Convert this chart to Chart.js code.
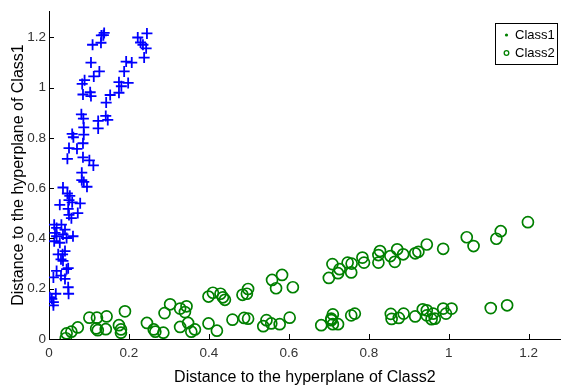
<!DOCTYPE html>
<html lang="en">
<head>
<meta charset="UTF-8">
<title>Distance to hyperplanes</title>
<script src="https://cdn.jsdelivr.net/npm/chart.js"></script>
<style>
    html, body { margin: 0; padding: 0; background: #fff; }
    canvas { display: block; }
</style>
</head>
<body>
<canvas id="chart" width="568" height="390"></canvas>
<script>
// Class1 (blue +)
const class1X = [0.138,0.136,0.131,0.130,0.109,0.105,0.126,0.112,0.089,0.083,0.085,0.103,0.105,0.081,0.086,0.087,0.058,0.061,0.087,0.085,
    0.050,0.070,0.046,0.085,0.101,0.111,0.082,0.082,0.245,0.222,0.229,0.235,0.243,0.238,0.193,0.207,0.188,0.175,0.198,0.181,
    0.175,0.153,0.143,0.142,0.123,0.147,0.123,0.087,0.095,0.035,0.046,0.052,0.050,0.027,0.058,0.078,0.048,0.072,0.050,0.056,
    0.013,0.019,0.031,0.040,0.015,0.019,0.035,0.060,0.044,0.013,0.027,0.040,0.023,0.034,0.030,0.035,0.044,0.048,0.019,0.030,
    0.040,0.011,0.048,0.049,0.017,0.007,0.011,0.011,0.002];
const class1Y = [1.218,1.209,1.208,1.179,1.171,1.100,1.065,1.045,1.030,1.015,0.973,0.982,0.967,0.894,0.877,0.842,0.816,0.803,0.813,0.779,
    0.760,0.757,0.717,0.723,0.711,0.691,0.662,0.632,1.216,1.200,1.180,1.171,1.157,1.120,1.104,1.100,1.065,1.022,1.019,1.006,
    0.980,0.971,0.941,0.888,0.868,0.872,0.838,0.625,0.606,0.603,0.579,0.570,0.553,0.534,0.544,0.540,0.518,0.501,0.494,0.481,
    0.455,0.442,0.455,0.435,0.422,0.409,0.416,0.409,0.402,0.389,0.383,0.350,0.337,0.337,0.317,0.311,0.278,0.282,0.271,0.252,
    0.239,0.245,0.206,0.180,0.180,0.160,0.147,0.134,0.166];

// Class2 (green o)
const class2X = [0.044,0.042,0.056,0.072,0.101,0.120,0.144,0.118,0.122,0.142,0.175,0.180,0.180,0.190,0.245,0.262,0.266,0.286,0.289,0.303,
    0.328,0.344,0.340,0.328,0.348,0.356,0.365,0.399,0.410,0.429,0.435,0.440,0.399,0.420,0.459,0.488,0.498,0.484,0.498,0.495,
    0.536,0.544,0.556,0.577,0.602,0.558,0.568,0.583,0.610,0.681,0.706,0.710,0.710,0.723,0.700,0.709,0.723,0.727,0.747,0.756,
    0.756,0.765,0.784,0.788,0.824,0.824,0.828,0.854,0.855,0.857,0.757,0.871,0.865,0.886,0.916,0.924,0.945,0.986,1.045,1.062,
    1.119,1.130,1.198,0.706,0.875,0.887,0.916,0.935,0.945,0.945,0.961,0.957,0.965,0.986,0.993,1.007,1.105,1.146];
const class2Y = [0.022,0.003,0.029,0.046,0.085,0.085,0.090,0.042,0.035,0.039,0.055,0.038,0.025,0.110,0.064,0.038,0.029,0.025,0.103,0.138,
    0.121,0.130,0.107,0.048,0.064,0.029,0.038,0.169,0.184,0.180,0.166,0.156,0.062,0.033,0.077,0.084,0.081,0.176,0.199,0.180,
    0.051,0.075,0.062,0.059,0.085,0.235,0.202,0.255,0.206,0.055,0.075,0.098,0.059,0.059,0.243,0.298,0.262,0.278,0.304,0.265,
    0.094,0.101,0.324,0.304,0.334,0.304,0.350,0.330,0.100,0.080,0.300,0.357,0.307,0.337,0.341,0.347,0.376,0.359,0.405,0.370,
    0.399,0.429,0.465,0.081,0.084,0.101,0.090,0.118,0.114,0.094,0.101,0.079,0.081,0.121,0.101,0.121,0.123,0.134];

const seriesNames = ['Class1', 'Class2'];
const xTitle = 'Distance to the hyperplane of Class2';
const yTitle = 'Distance to the hyperplane of Class1';

const BLUE = '#0000ff';
const GREEN = '#008000';
const FONT = '"Liberation Sans", Arial, sans-serif';

function zip(xs, ys) {
    return xs.map((x, i) => ({ x: x, y: ys[i] }));
}

function fmt(v) {
    return String(Number(v.toFixed(1)));
}

// MATLAB style: tick marks point into the plot
const innerTicks = {
    id: 'innerTicks',
    afterDraw(chart) {
        const ctx = chart.ctx;
        const a = chart.chartArea;
        const xs = chart.scales.x, ys = chart.scales.y;
        ctx.save();
        ctx.strokeStyle = '#000';
        ctx.lineWidth = 1;
        ctx.beginPath();
        xs.ticks.forEach(t => {
            const px = Math.round(xs.getPixelForValue(t.value)) + 0.5;
            ctx.moveTo(px, a.bottom);
            ctx.lineTo(px, a.bottom - 5);
        });
        ys.ticks.forEach(t => {
            const py = Math.round(ys.getPixelForValue(t.value)) + 0.5;
            ctx.moveTo(a.left, py);
            ctx.lineTo(a.left + 5, py);
        });
        ctx.stroke();
        ctx.restore();
    }
};

// boxed legend inside the axes, top right
const boxLegend = {
    id: 'boxLegend',
    afterDraw(chart) {
        const ctx = chart.ctx;
        const left = 495.5, top = 23.5, w = 62, h = 41;
        ctx.save();
        ctx.fillStyle = '#fff';
        ctx.fillRect(left, top, w, h);
        ctx.strokeStyle = '#000';
        ctx.lineWidth = 1;
        ctx.strokeRect(left, top, w, h);
        ctx.font = '13px ' + FONT;
        ctx.fillStyle = '#000';
        ctx.textBaseline = 'middle';
        ctx.fillText(seriesNames[0], 515, 35);
        ctx.fillText(seriesNames[1], 515, 53);
        ctx.fillStyle = GREEN;
        ctx.beginPath();
        ctx.arc(506.5, 35, 1.6, 0, Math.PI * 2);
        ctx.fill();
        ctx.strokeStyle = GREEN;
        ctx.lineWidth = 1.3;
        ctx.beginPath();
        ctx.arc(506.5, 53, 2.3, 0, Math.PI * 2);
        ctx.stroke();
        ctx.restore();
    }
};

new Chart(document.getElementById('chart'), {
    type: 'scatter',
    data: {
        datasets: [{
            label: seriesNames[0],
            data: zip(class1X, class1Y),
            pointStyle: 'cross',
            pointRadius: 5.5,
            borderColor: BLUE,
            backgroundColor: BLUE,
            borderWidth: 1.8
        }, {
            label: seriesNames[1],
            data: zip(class2X, class2Y),
            pointStyle: 'circle',
            pointRadius: 5.5,
            borderColor: GREEN,
            backgroundColor: 'rgba(0,0,0,0)',
            borderWidth: 1.7
        }]
    },
    options: {
        responsive: false,
        animation: false,
        devicePixelRatio: 1,
        layout: { padding: { top: 7, right: 0, left: 0, bottom: 0 } },
        plugins: {
            legend: { display: false },
            tooltip: { enabled: false }
        },
        scales: {
            x: {
                type: 'linear',
                min: 0,
                max: 1.28,
                afterFit: s => { s.height = 51; },
                grid: { display: true, drawOnChartArea: false, drawTicks: false },
                border: { display: true, color: '#000', width: 1 },
                ticks: {
                    stepSize: 0.2,
                    includeBounds: false,
                    padding: 6,
                    maxRotation: 0,
                    color: '#333',
                    font: { family: FONT, size: 13.5 },
                    callback: v => fmt(v)
                },
                title: {
                    display: true,
                    text: xTitle,
                    color: '#000',
                    font: { family: FONT, size: 16 },
                    padding: { top: 0, bottom: 3 }
                }
            },
            y: {
                type: 'linear',
                min: 0,
                max: 1.305,
                afterFit: s => { s.width = 49; },
                grid: { display: true, drawOnChartArea: false, drawTicks: false },
                border: { display: true, color: '#000', width: 1 },
                ticks: {
                    stepSize: 0.2,
                    includeBounds: false,
                    padding: 3,
                    color: '#333',
                    font: { family: FONT, size: 13.5 },
                    callback: v => fmt(v)
                },
                title: {
                    display: true,
                    text: yTitle,
                    color: '#000',
                    font: { family: FONT, size: 16 },
                    padding: { top: 9, bottom: 0 }
                }
            }
        }
    },
    plugins: [innerTicks, boxLegend]
});
</script>
</body>
</html>
